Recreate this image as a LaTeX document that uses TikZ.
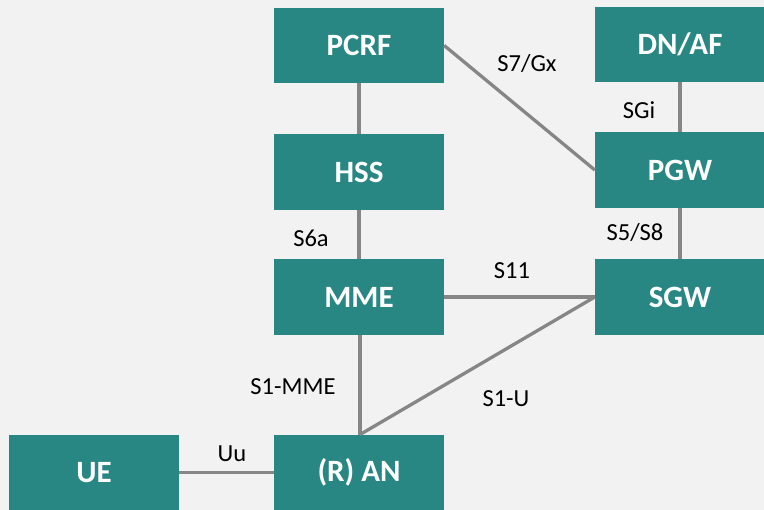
\documentclass[tikz,border=0pt]{standalone}
\usepackage{fontspec}
\setmainfont{Carlito}
\definecolor{boxteal}{RGB}{40,135,130}
\definecolor{pagebg}{RGB}{242,242,242}
\definecolor{linkgray}{RGB}{134,134,134}
\begin{document}
\begin{tikzpicture}[x=1pt,y=-1pt,
  nfbox/.style={rectangle, fill=boxteal, draw=none, minimum width=170pt,
    minimum height=75.5pt, inner sep=0pt, text=white,
    font=\fontsize{31}{31}\selectfont\bfseries},
  link/.style={draw=linkgray, line width=3.3pt},
  iflabel/.style={inner sep=0pt, text=black, font=\fontsize{24.5}{24.5}\selectfont}]
  % page
  \fill[pagebg] (0,0) rectangle (764,510);
  \useasboundingbox (0,0) rectangle (764,510);
  \clip (0,0) rectangle (764,510);

  % network functions
  \node[nfbox] (pcrf) at (359,45.5) {PCRF};
  \node[nfbox] (dnaf) at (680,44.5) {DN/AF};
  \node[nfbox] (hss)  at (359,172)  {HSS};
  \node[nfbox] (pgw)  at (680,170)  {PGW};
  \node[nfbox] (mme)  at (359,297)  {MME};
  \node[nfbox] (sgw)  at (680,297)  {SGW};
  \node[nfbox] (ue)   at (94,472.5) {UE};
  \node[nfbox] (an)   at (359,472.5) {(R) AN};

  % reference points
  \draw[link] (pcrf.south) -- (hss.north);
  \draw[link] (hss.south) -- (mme.north);
  \draw[link] (pcrf.east) -- (pgw.west);
  \draw[link] (dnaf.south) -- (pgw.north);
  \draw[link] (pgw.south) -- (sgw.north);
  \draw[link] (mme.east) -- (sgw.west);
  \draw[link] (sgw.west) -- ([xshift=1pt]an.north);
  \draw[link] ([xshift=1pt]mme.south) -- ([xshift=1pt]an.north);
  \draw[link] (ue.east) -- (an.west);

  % interface names
  \node[iflabel] (lgx)   at (527,64)  {S7/Gx};
  \node[iflabel] (lsgi)  at (639,110) {SGi};
  \node[iflabel] (ls6a)  at (311,238) {S6a};
  \node[iflabel] (ls5)   at (635,233) {S5/S8};
  \node[iflabel] (ls11)  at (512,271) {S11};
  \node[iflabel] (ls1m)  at (293,387) {S1-MME};
  \node[iflabel] (ls1u)  at (506,399) {S1-U};
  \node[iflabel] (luu)   at (232,454) {Uu};
\end{tikzpicture}
\end{document}
